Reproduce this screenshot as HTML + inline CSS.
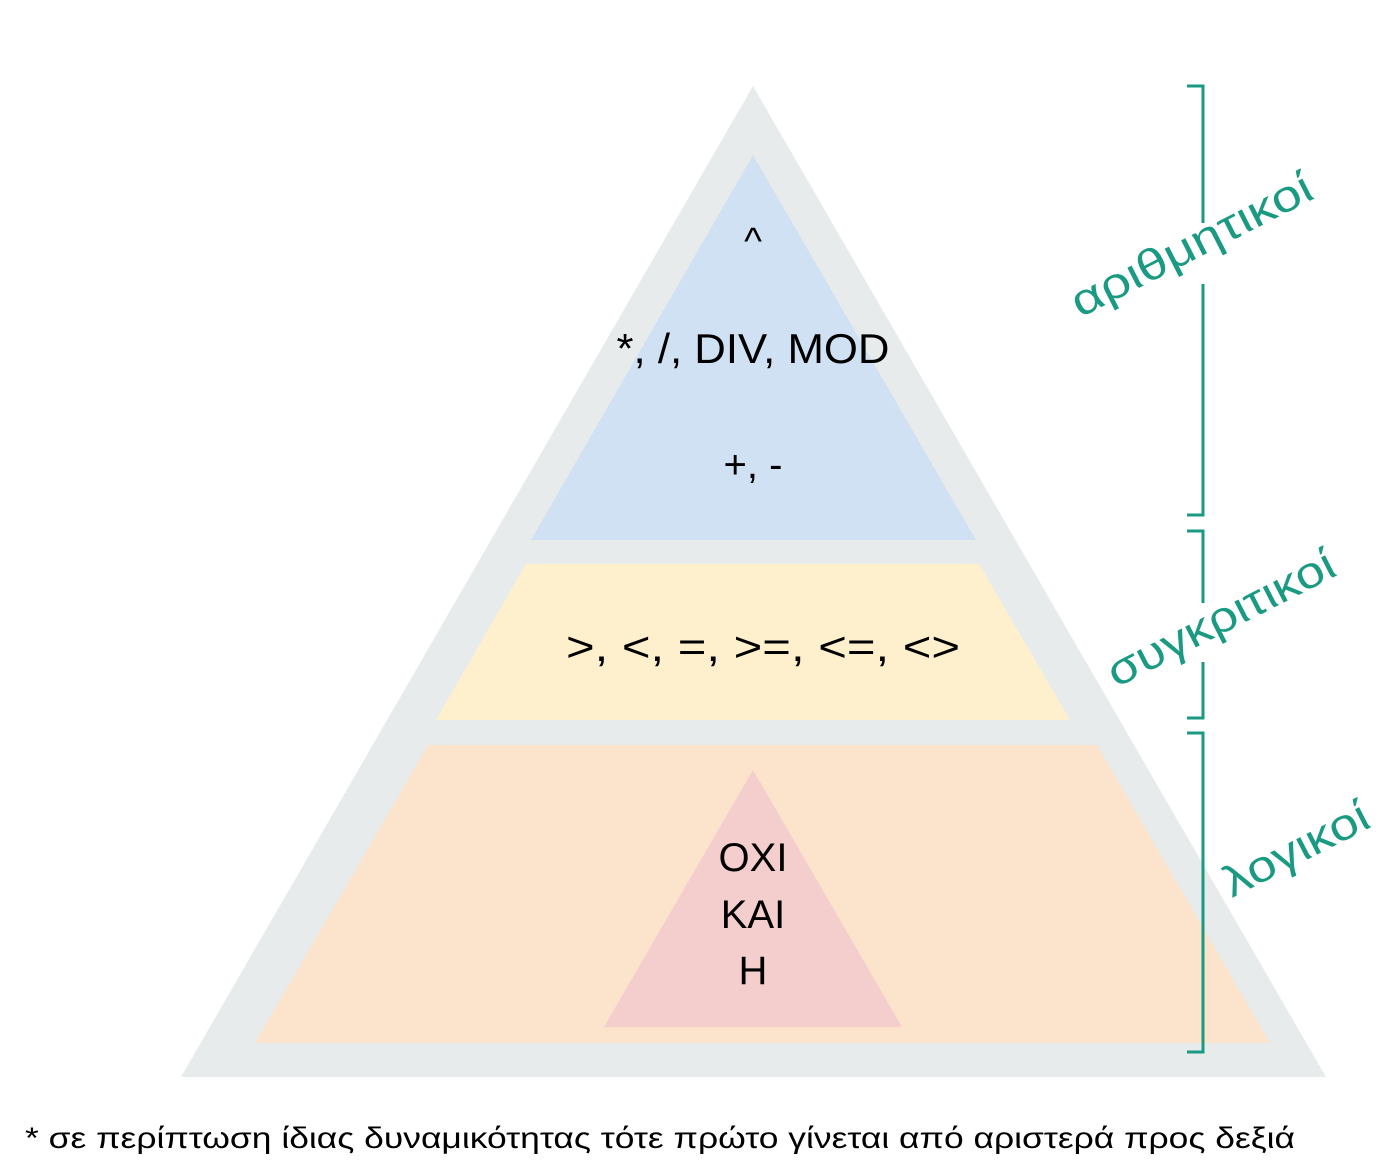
<!DOCTYPE html>
<html><head><meta charset="utf-8"><style>html,body{margin:0;padding:0;background:#fff}svg{display:block}</style></head>
<body>
<svg width="1388" height="1176" viewBox="0 0 1388 1176" xmlns="http://www.w3.org/2000/svg" font-family="'Liberation Sans', 'DejaVu Sans', sans-serif">
<polygon points="753,86 181,1077 1326,1077" fill="#e8ebec"/>
<polygon points="753,155 531,540 976,540" fill="#cfe1f2"/>
<polygon points="526,564 979,564 1070,720 436,720" fill="#fef0cd"/>
<polygon points="428,745 1097,745 1270,1043 255,1043" fill="#fbe3cc"/>
<polygon points="753,770 604,1027 902,1027" fill="#f4cdcd"/>
<g fill="#000" text-anchor="middle">
<text x="753" y="254" font-size="38">^</text>
<text x="753" y="363" font-size="42" textLength="273" lengthAdjust="spacingAndGlyphs">*, /, DIV, MOD</text>
<text x="753" y="478" font-size="40">+, -</text>
<text x="763" y="661" font-size="42" textLength="394" lengthAdjust="spacingAndGlyphs">&gt;, &lt;, =, &gt;=, &lt;=, &lt;&gt;</text>
<text x="753" y="871" font-size="40">OXI</text>
<text x="753" y="928" font-size="40">KAI</text>
<text x="753" y="984" font-size="40">H</text>
</g>
<text x="25" y="1148" font-size="30" textLength="1270" lengthAdjust="spacingAndGlyphs">* σε περίπτωση ίδιας δυναμικότητας τότε πρώτο γίνεται από αριστερά προς δεξιά</text>
<g stroke="#1a9a82" stroke-width="3" fill="none">
<path d="M1187,86 H1203 V223"/>
<path d="M1203,284 V515 H1187"/>
<path d="M1187,531 H1203 V603"/>
<path d="M1203,662 V718 H1187"/>
<path d="M1187,733 H1203 V1052 H1187"/>
</g>
<g fill="#1a9a82" font-size="44" font-weight="300">
<text transform="translate(1080,318) rotate(-27)" textLength="265" lengthAdjust="spacingAndGlyphs">αριθμητικοί</text>
<text transform="translate(1116,688) rotate(-27)" textLength="250" lengthAdjust="spacingAndGlyphs">συγκριτικοί</text>
<text transform="translate(1232,898) rotate(-27)" textLength="158" lengthAdjust="spacingAndGlyphs">λογικοί</text>
</g>
</svg>
</body></html>
